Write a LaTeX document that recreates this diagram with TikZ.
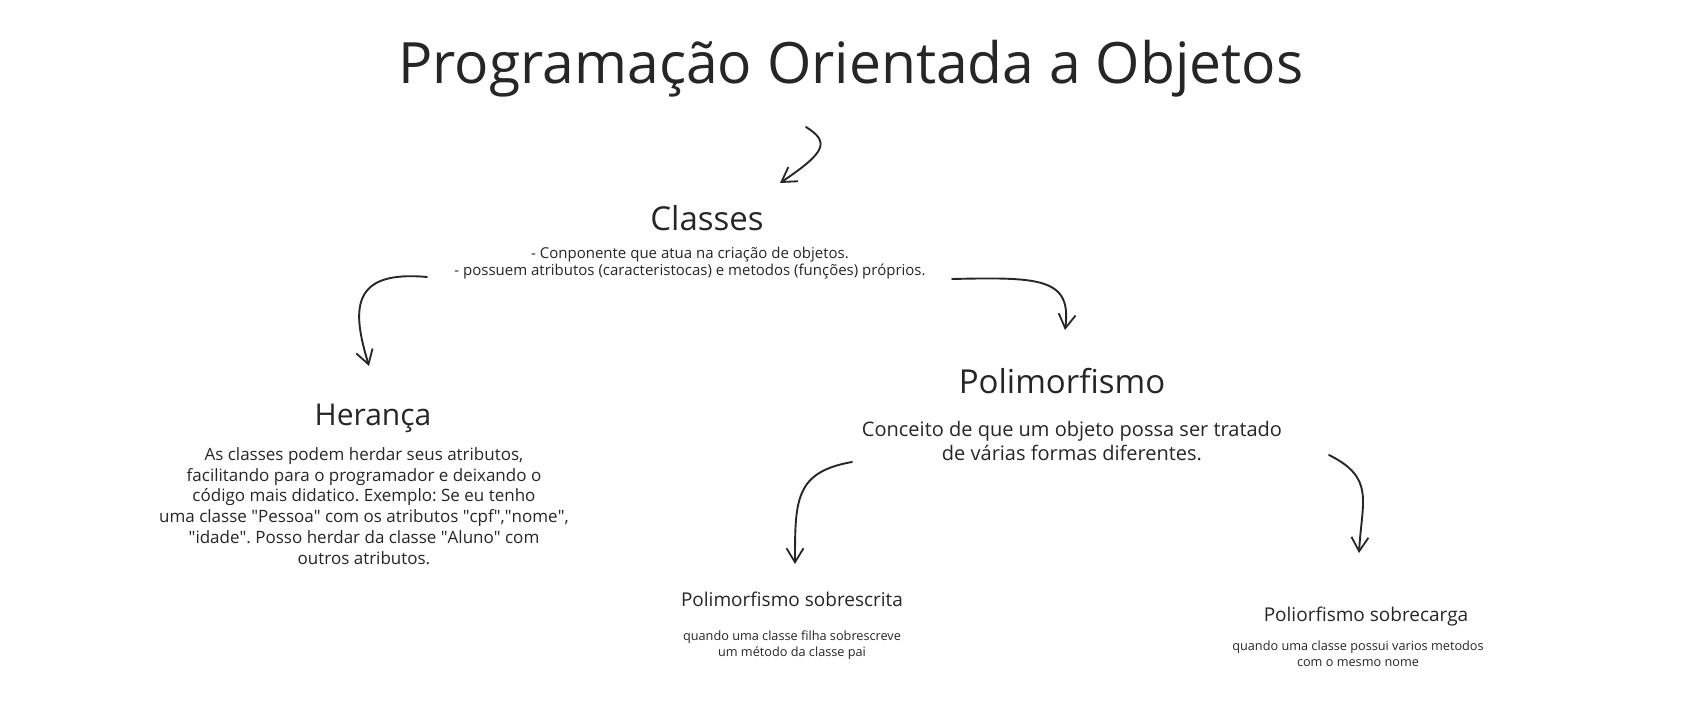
\documentclass[tikz,border=0pt]{standalone}
\usepackage{fontspec}
\setmainfont{Open Sans}
\usetikzlibrary{arrows.meta}
\frenchspacing

\begin{document}
\begin{tikzpicture}[
  x=1pt, y=-1pt,
  every node/.style={inner sep=0pt, text=black!85},
  heading/.style={font=\fontsize{#1}{#1}\selectfont, anchor=base},
  bodytext/.style 2 args={align=center, font=\fontsize{#1}{#2}\selectfont},
  arrow/.style={-{Straight Barb[length=14pt, width=17pt, line width=1.8pt]},
    line width=1.9pt, line cap=round, black!85}
]
  \useasboundingbox (0,0) rectangle (1689,719);

  \node[heading=57] (title) at (851,84) {Programação Orientada a Objetos};

  \node[heading=33] (classes) at (707,231) {Classes};
  \node[bodytext={15}{17.5}] (classesdesc) at (690,263)
    {- Conponente que atua na criação de objetos.\\
     - possuem atributos (caracteristocas) e metodos (funções) próprios.};

  \node[heading=30] (heranca) at (373,425) {Herança};
  \node[bodytext={17}{20.7}] (herancadesc) at (364,506)
    {As classes podem herdar seus atributos,\\
     facilitando para o programador e deixando o\\
     código mais didatico. Exemplo: Se eu tenho\\
     uma classe \textquotedbl Pessoa\textquotedbl\ com os atributos
     \textquotedbl cpf\textquotedbl,\textquotedbl nome\textquotedbl,\\
     \textquotedbl idade\textquotedbl. Posso herdar da classe
     \textquotedbl Aluno\textquotedbl\ com\\
     outros atributos.};

  \node[heading=33] (polim) at (1062,393) {Polimorfismo};
  \node[bodytext={20}{23.5}] (polimdesc) at (1072,441)
    {Conceito de que um objeto possa ser tratado\\
     de várias formas diferentes.};

  \node[heading=19] (sobrescrita) at (792,606) {Polimorfismo sobrescrita};
  \node[bodytext={12.7}{15.5}] (sobrescritadesc) at (792,645)
    {quando uma classe filha sobrescreve\\
     um método da classe pai};

  \node[heading=19] (sobrecarga) at (1366,621) {Poliorfismo sobrecarga};
  \node[bodytext={12.7}{16}] (sobrecargadesc) at (1358,654)
    {quando uma classe possui varios metodos\\
     com o mesmo nome};

  % free ends of the hand-drawn arrows
  \coordinate (titleout) at (806,127);
  \coordinate (classesin) at (780,183);
  \coordinate (classesoutL) at (427,277);
  \coordinate (herancain) at (369,366);
  \coordinate (classesoutR) at (952,279);
  \coordinate (polimin) at (1065,330);
  \coordinate (polimoutL) at (852,462);
  \coordinate (sobrescritain) at (795,564);
  \coordinate (polimoutR) at (1329,455);
  \coordinate (sobrecargain) at (1359,553);

  \draw[arrow] (titleout) .. controls (830,142) and (826,152) .. (classesin);
  \draw[arrow] (classesoutL) .. controls (350,270) and (352,310) .. (herancain);
  \draw[arrow] (classesoutR) .. controls (1040,277) and (1072,278) .. (polimin);
  \draw[arrow] (polimoutL) .. controls (795,472) and (795,500) .. (sobrescritain);
  \draw[arrow] (polimoutR) .. controls (1375,478) and (1362,500) .. (sobrecargain);

\end{tikzpicture}
\end{document}
